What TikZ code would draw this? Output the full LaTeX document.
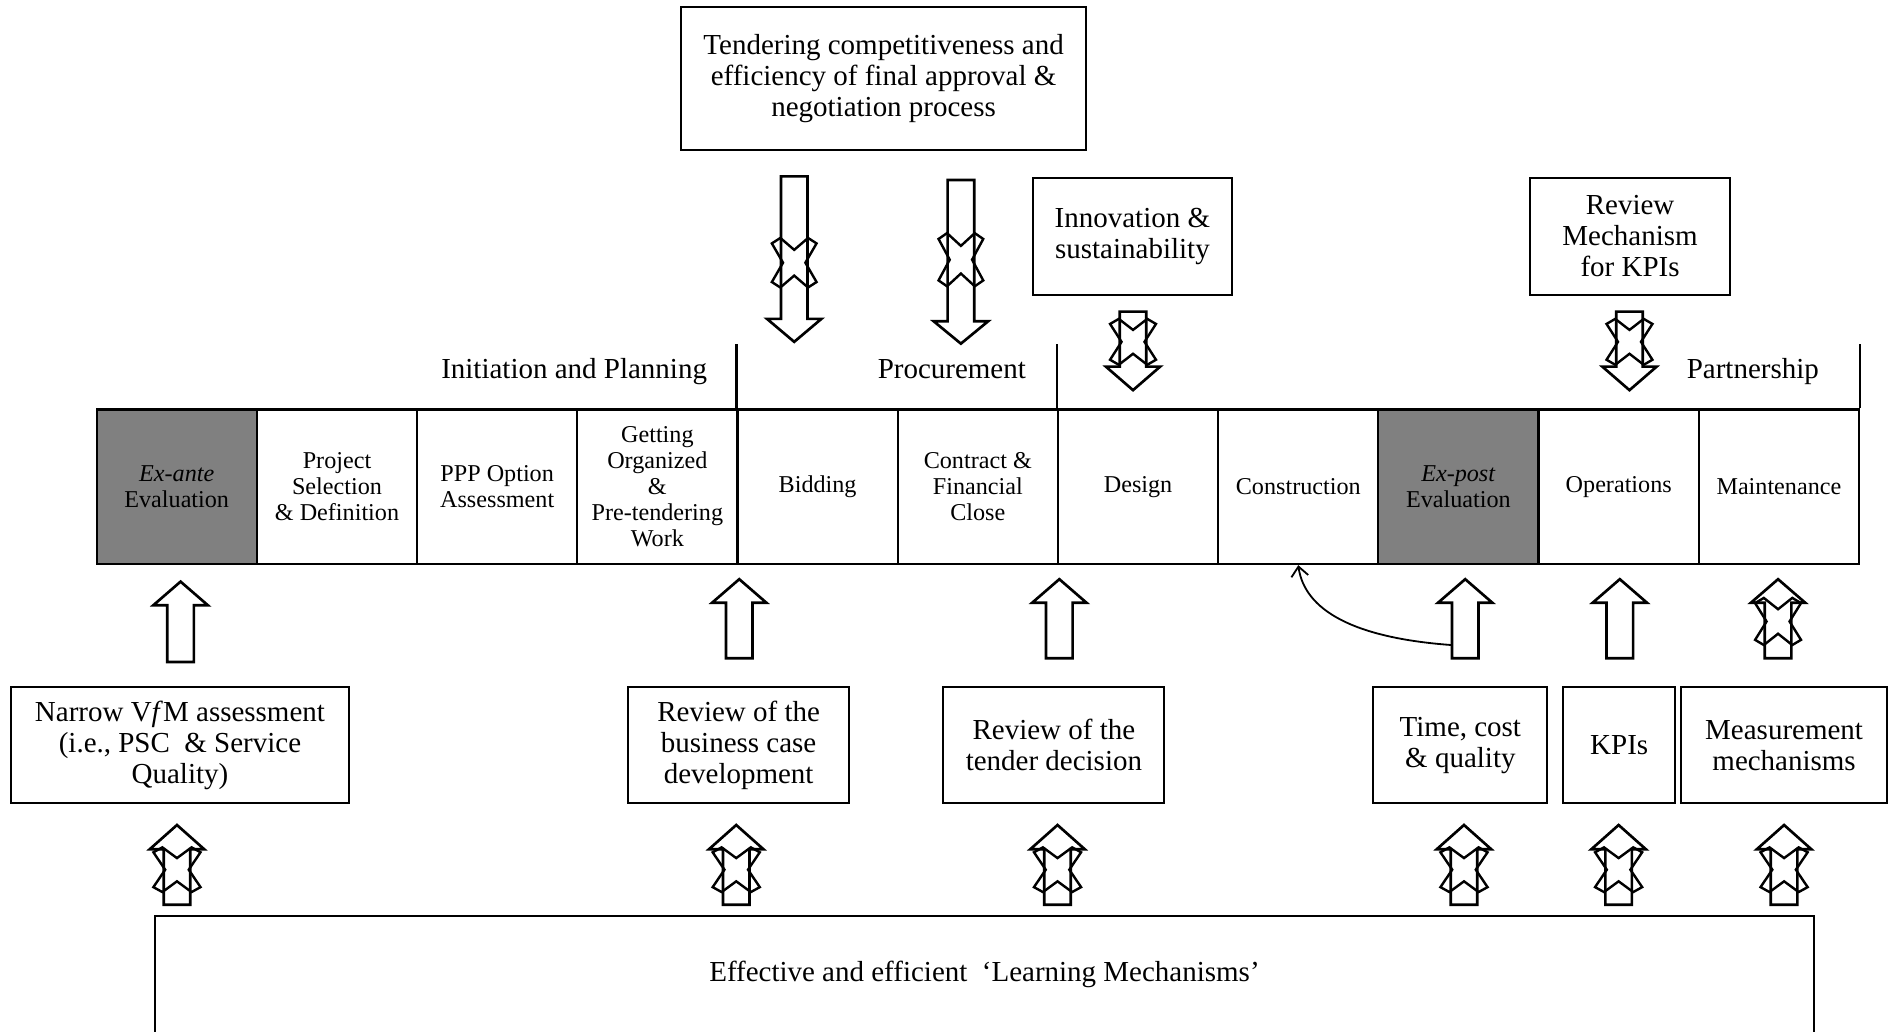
\documentclass[tikz,border=0pt]{standalone}
\usepackage{fontspec}
\setmainfont{Liberation Serif}
\usetikzlibrary{arrows.meta}

\definecolor{stagegray}{RGB}{128,128,128}

% hollow block arrow: centre x, tail y, head-base y, tip y
\def\arrsw{11}
\def\arrhw{22.5}
\newcommand\blockarrow[4]{%
  \draw[blockarr] (#1-\arrsw,#2) -- (#1-\arrsw,#3) -- (#1-\arrhw,#3) -- (#1,#4)
    -- (#1+\arrhw,#3) -- (#1+\arrsw,#3) -- (#1+\arrsw,#2) -- cycle;}

% outlined cross laid over an arrow: centre x, centre y, half width, half height
\newcommand\crossmark[4]{%
  \draw[crossx] (#1-#3,#2-0.78*#4) -- (#1-0.62*#3,#2-#4) -- (#1,#2-0.52*#4)
    -- (#1+0.62*#3,#2-#4) -- (#1+#3,#2-0.78*#4) -- (#1+0.5*#3,#2)
    -- (#1+#3,#2+0.78*#4) -- (#1+0.62*#3,#2+#4) -- (#1,#2+0.52*#4)
    -- (#1-0.62*#3,#2+#4) -- (#1-#3,#2+0.78*#4) -- (#1-0.5*#3,#2) -- cycle;}

\begin{document}
\begin{tikzpicture}[x=1pt,y=-1pt,
  box/.style={draw, line width=1.6pt, align=center, inner sep=0pt,
    font=\fontsize{24}{25.5}\selectfont},
  stage/.style={draw, line width=1.8pt, minimum width=132.64pt, minimum height=128pt,
    align=center, inner sep=0pt, font=\fontsize{20}{21.4}\selectfont},
  gstage/.style={stage, fill=stagegray},
  phase/.style={anchor=base east, inner sep=0pt, font=\fontsize{24}{25.5}\selectfont},
  blockarr/.style={draw, line width=2.2pt, fill=white, line join=miter},
  crossx/.style={draw, line width=2pt, line join=miter},
  feedback/.style={line width=1.5pt, -{Straight Barb[length=8pt,width=14pt]}}
]
\useasboundingbox (0,0) rectangle (1568,854);

% ---------- project life-cycle stages ----------
\node[gstage] (s1)  at (146.3,403)  {\textit{Ex-ante}\\Evaluation};
\node[stage]  (s2)  at (279.0,403)  {Project\\Selection\\\& Definition};
\node[stage]  (s3)  at (411.6,403)  {PPP Option\\Assessment};
\node[stage]  (s4)  at (544.2,403)  {Getting\\Organized\\\&\\Pre-tendering\\Work};
\node[stage]  (s5)  at (676.9,403)  {Bidding};
\node[stage]  (s6)  at (809.5,403)  {Contract \&\\Financial\\Close};
\node[stage]  (s7)  at (942.2,403)  {Design};
\node[stage]  (s8)  at (1074.8,403) {Construction};
\node[gstage] (s9)  at (1207.4,403) {\textit{Ex-post}\\Evaluation};
\node[stage]  (s10) at (1340.1,403) {Operations};
\node[stage]  (s11) at (1472.7,403) {Maintenance};

% ---------- phase dividers and labels ----------
\draw[line width=1.8pt] (s5.north west) -- ++(0,-53.5);
\draw[line width=1.8pt] (s7.north west) -- ++(0,-53.5);
\draw[line width=1.8pt] (s11.north east) -- ++(0,-53.5);
\node[phase] (ph1) at (585.5,313) {Initiation and Planning};
\node[phase] (ph2) at (849.5,313) {Procurement};
\node[phase] (ph3) at (1506,313)  {Partnership};

% ---------- boxes above the stages ----------
\node[box, minimum width=335pt, minimum height=118pt] (tender) at (731.5,65)
  {Tendering competitiveness and\\efficiency of final approval \&\\negotiation process};
\node[box, minimum width=165pt, minimum height=97pt] (innov) at (937.5,195.5)
  {Innovation \&\\sustainability};
\node[box, minimum width=165pt, minimum height=97pt] (revkpi) at (1349.5,195.5)
  {Review\\Mechanism\\for KPIs};

% ---------- boxes below the stages ----------
\node[box, minimum width=280pt, minimum height=96pt] (vfm) at (149,617)
  {Narrow V\textit{f}M assessment\\(i.e., PSC\ \ \& Service\\Quality)};
\node[box, minimum width=183pt, minimum height=96pt] (bcase) at (611.5,617)
  {Review of the\\business case\\development};
\node[box, minimum width=183pt, minimum height=96pt] (tdec) at (872.5,617)
  {Review of the\\tender decision};
\node[box, minimum width=144pt, minimum height=96pt] (tcq) at (1209,617)
  {Time, cost\\\& quality};
\node[box, minimum width=93pt, minimum height=96pt] (kpis) at (1340.5,617)
  {KPIs};
\node[box, minimum width=170pt, minimum height=96pt] (meas) at (1477,617)
  {Measurement\\mechanisms};

% ---------- learning mechanisms ----------
\node[box, minimum width=1374pt, minimum height=98pt] (learn) at (815,807)
  {Effective and efficient\ \ `Learning Mechanisms'};

% ---------- downward arrows into the stages ----------
\blockarrow{657.5}{146}{264}{283}
\crossmark{657.5}{217.5}{18.5}{20.5}
\blockarrow{795.5}{149}{266}{284.5}
\crossmark{795.5}{215}{18.5}{22}
\blockarrow{938}{258}{303.5}{323}
\crossmark{938}{283}{19}{19}
\blockarrow{1349}{258}{303.5}{323}
\crossmark{1349}{283}{19}{19}

% ---------- upward arrows into the stages ----------
\blockarrow{149.5}{548}{501}{481.5}
\blockarrow{612}{545}{499}{479.5}
\blockarrow{877}{545}{499}{479.5}
\blockarrow{1213}{545}{499}{479.5}
\blockarrow{1341}{545}{499}{479.5}
\blockarrow{1472}{545}{499}{479.5}
\crossmark{1472}{514.5}{19}{19.5}

% ---------- upward arrows from the learning mechanisms ----------
\foreach \cx in {146.5,609.5,875.5,1212,1340,1477}{
  \blockarrow{\cx}{749}{703}{683}
  \crossmark{\cx}{720}{19.5}{18.5}
}

% ---------- feedback from ex-post evaluation to construction ----------
\coordinate (fbstart) at (1201.5,534);
\draw[feedback] (fbstart) .. controls (1120,528) and (1080,505) .. (s8.south);
\end{tikzpicture}
\end{document}
